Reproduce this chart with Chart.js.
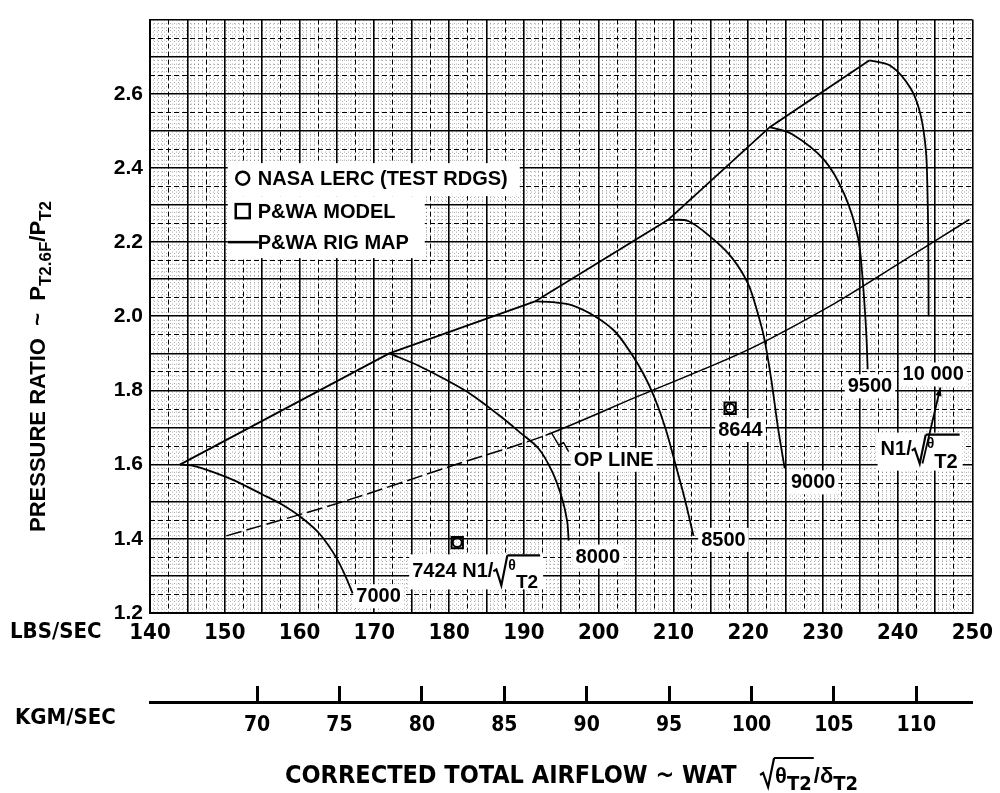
<!DOCTYPE html>
<html>
<head>
<meta charset="utf-8">
<title>Compressor map</title>
<script src="https://cdn.jsdelivr.net/npm/chart.js@4.4.0/dist/chart.umd.min.js"></script>
<style>
  html, body { margin: 0; padding: 0; background: #fff; }
  #wrap { width: 1000px; height: 793px; position: relative; }
</style>
</head>
<body>
<div id="wrap"><canvas id="map"></canvas></div>
<script>
// ── DATA ──────────────────────────────────────────────────────────────────────

const LB_PER_KG = 2.20462;

const X_TICKS = [140, 150, 160, 170, 180, 190, 200, 210, 220, 230, 240, 250];
const Y_TICKS = [1.2, 1.4, 1.6, 1.8, 2.0, 2.2, 2.4, 2.6];
const KGM_TICKS = [70, 75, 80, 85, 90, 95, 100, 105, 110];

// surge line through the tops of the speed lines
const SURGE_X = [144, 172, 191.5, 209.3, 222.9, 236.2];
const SURGE_Y = [1.60, 1.90, 2.04, 2.26, 2.51, 2.69];

// corrected speed lines  N1/sqrt(theta T2)
const N7000_X = [144, 145.5, 147.6, 151.1, 155.1, 157.6, 160.2, 162.7, 164.9, 166.2, 167.1];
const N7000_Y = [1.600, 1.598, 1.586, 1.559, 1.519, 1.493, 1.458, 1.413, 1.350, 1.297, 1.253];

const N8000_X = [172, 176, 182.2, 186.7, 189.6, 192, 193.8, 195.1, 195.8, 196.0];
const N8000_Y = [1.900, 1.866, 1.799, 1.733, 1.685, 1.643, 1.581, 1.510, 1.448, 1.395];

const N8500_X = [191.5, 194, 196.4, 199.6, 202.2, 204.2, 206.0, 207.5, 209.0, 210.3, 211.5, 212.7];
const N8500_Y = [2.040, 2.038, 2.030, 1.999, 1.959, 1.905, 1.845, 1.780, 1.695, 1.600, 1.510, 1.408];

const N9000_X = [209.3, 212, 215.1, 217.8, 220, 221.3, 222.2, 223.1, 224.0, 224.9];
const N9000_Y = [2.260, 2.257, 2.212, 2.159, 2.088, 2.008, 1.937, 1.830, 1.700, 1.590];

const N9500_X = [222.9, 225.8, 230.2, 232.9, 234.7, 235.3, 235.8, 236.0];
const N9500_Y = [2.510, 2.492, 2.421, 2.328, 2.213, 2.106, 1.959, 1.857];

const N10000_X = [236.2, 239.1, 241.8, 243.1, 243.8, 244.0, 244.1, 244.15];
const N10000_Y = [2.690, 2.675, 2.613, 2.541, 2.444, 2.337, 2.213, 2.000];

// operating line
const OP_X = [150.2, 165.3, 180.4, 192.9, 205.0, 219.6, 231.6, 240.0, 249.6];
const OP_Y = [1.408, 1.497, 1.597, 1.679, 1.782, 1.906, 2.035, 2.140, 2.261];

// test readings and model points (7424 and 8644)
const TEST_X = [181.1, 217.6];
const TEST_Y = [1.390, 1.752];
const MODEL_X = [181.1, 217.6];
const MODEL_Y = [1.390, 1.752];

// ── FONTS ─────────────────────────────────────────────────────────────────────

const SANS = '"Liberation Sans", Arial, sans-serif';
function fontOk(name) {
  const c = document.createElement('canvas').getContext('2d');
  c.font = 'bold 40px monospace';
  const a = c.measureText('CORRECTED 0123').width;
  c.font = `bold 40px "${name}", monospace`;
  return c.measureText('CORRECTED 0123').width !== a;
}
const NARROW = fontOk('Liberation Sans Narrow') ? '"Liberation Sans Narrow", sans-serif'
  : fontOk('DejaVu Sans Condensed') ? '"DejaVu Sans Condensed", sans-serif' : SANS;

// ── HELPERS ───────────────────────────────────────────────────────────────────

const pts = (xs, ys) => xs.map((x, i) => ({ x, y: ys[i] }));
const OP_DASH_END = 193;

const speedLine = (label, xs, ys, extra) => Object.assign({
  label, data: pts(xs, ys), showLine: true, pointRadius: 0, pointHoverRadius: 0,
  borderColor: '#000', borderWidth: 1.8, tension: 0.3, fill: false,
}, extra || {});

// rich text: parts run left to right, rad/end draw a square-root sign with overline
function rich(ctx, x, y, parts, draw) {
  let cx = x, radX = 0, radTop = 0;
  ctx.textAlign = 'left';
  ctx.textBaseline = 'alphabetic';
  for (const p of parts) {
    if (p.rad) {
      if (draw) {
        ctx.beginPath();
        ctx.moveTo(cx, y + p.mid);
        ctx.lineTo(cx + 3, y + p.mid - 2);
        ctx.lineTo(cx + 8, y + p.bot);
        ctx.lineTo(cx + 14, y + p.top);
        ctx.lineWidth = 2.2;
        ctx.strokeStyle = '#000';
        ctx.stroke();
      }
      radX = cx + 14; radTop = y + p.top; cx += 15;
      continue;
    }
    if (p.end) {
      if (draw) {
        ctx.beginPath();
        ctx.moveTo(radX, radTop);
        ctx.lineTo(cx + 2, radTop);
        ctx.lineWidth = 2.2;
        ctx.stroke();
      }
      cx += 2;
      continue;
    }
    ctx.font = `bold ${p.s}px ${p.f || SANS}`;
    if (draw) { ctx.fillStyle = '#000'; ctx.fillText(p.t, cx, y + (p.dy || 0)); }
    cx += ctx.measureText(p.t).width;
  }
  return cx - x;
}

const at = (chart, p) => [chart.scales.x.getPixelForValue(p[0]), chart.scales.y.getPixelForValue(p[1])];

const LABELS = [
  { at: [167.6, 1.229], parts: [{ t: '7000', s: 20 }] },
  { at: [175.07, 1.296], down: 12, up: 23, parts: [
    { t: '7424 N1/', s: 20 }, { rad: true, mid: -6, bot: 8, top: -22 },
    { t: 'θ', s: 14, dy: -7 }, { t: 'T2', s: 19, dy: 11 }, { end: true }] },
  { at: [196.93, 1.336], parts: [{ t: '8000', s: 20 }] },
  { at: [213.73, 1.381], parts: [{ t: '8500', s: 20 }] },
  { at: [225.73, 1.536], parts: [{ t: '9000', s: 20 }] },
  { at: [216.0, 1.677], parts: [{ t: '8644', s: 20 }] },
  { at: [196.67, 1.597], parts: [{ t: 'OP LINE', s: 20 }] },
  { at: [233.33, 1.795], parts: [{ t: '9500', s: 20 }] },
  { at: [240.67, 1.827], parts: [{ t: '10 000', s: 20 }] },
  { at: [237.73, 1.627], down: 16, up: 22, parts: [
    { t: 'N1/', s: 20 }, { rad: true, mid: -4, bot: 9, top: -20 },
    { t: 'θ', s: 14, dy: -7 }, { t: 'T2', s: 20, dy: 13 }, { end: true }] },
];
const LEGEND_AT = [150.4, 2.413];

const notes = {
  id: 'notes',
  beforeDatasetsDraw(chart) {
    const ctx = chart.ctx;
    ctx.save();
    const [lx, ly] = at(chart, LEGEND_AT);
    ctx.fillStyle = '#fff';
    ctx.fillRect(lx, ly, 292, 33);
    ctx.fillRect(lx, ly + 33, 197, 62);
    for (const lab of LABELS) {
      const [x, y] = at(chart, lab.at);
      const w = rich(ctx, x, y, lab.parts, false);
      const up = lab.up || 18, down = lab.down || 6;
      ctx.fillStyle = '#fff';
      ctx.fillRect(x - 3, y - up, w + 6, up + down);
    }
    ctx.restore();
  },
  afterDatasetsDraw(chart) {
    const ctx = chart.ctx;
    ctx.save();
    for (const lab of LABELS) {
      const [x, y] = at(chart, lab.at);
      rich(ctx, x, y, lab.parts, true);
    }
    // leader to 10 000
    const [ax, ay] = at(chart, [243.33, 1.603]);
    const [bx, by] = at(chart, [245.73, 1.808]);
    ctx.strokeStyle = '#000';
    ctx.lineWidth = 1.8;
    ctx.beginPath(); ctx.moveTo(ax, ay); ctx.lineTo(bx, by); ctx.stroke();
    const ang = Math.atan2(by - ay, bx - ax);
    ctx.beginPath();
    ctx.moveTo(bx, by);
    ctx.lineTo(bx - 9 * Math.cos(ang - 0.35), by - 9 * Math.sin(ang - 0.35));
    ctx.lineTo(bx - 9 * Math.cos(ang + 0.35), by - 9 * Math.sin(ang + 0.35));
    ctx.closePath(); ctx.fillStyle = '#000'; ctx.fill();
    // OP LINE leader
    const lead = [[196.0, 1.635], [195.33, 1.659], [194.67, 1.653], [193.73, 1.685]].map(p => at(chart, p));
    ctx.lineWidth = 1.4;
    ctx.beginPath();
    lead.forEach((p, i) => (i ? ctx.lineTo(p[0], p[1]) : ctx.moveTo(p[0], p[1])));
    ctx.stroke();

    // legend
    const [lx, ly] = at(chart, LEGEND_AT);
    ctx.lineWidth = 2.5;
    ctx.beginPath(); ctx.arc(lx + 15, ly + 15, 6.5, 0, Math.PI * 2); ctx.stroke();
    ctx.strokeRect(lx + 8, ly + 41, 14, 14);
    ctx.beginPath(); ctx.moveTo(lx, ly + 79); ctx.lineTo(lx + 31, ly + 79); ctx.stroke();
    ctx.font = `bold 20px ${SANS}`;
    ctx.fillStyle = '#000';
    ctx.textAlign = 'left';
    ctx.textBaseline = 'alphabetic';
    ctx.fillText('NASA LERC (TEST RDGS)', lx + 30, ly + 22);
    ctx.fillText('P&WA MODEL', lx + 30, ly + 55);
    ctx.fillText('P&WA RIG MAP', lx + 30, ly + 86);
    ctx.restore();
  },
  afterDraw(chart) {
    const ctx = chart.ctx;
    ctx.save();
    ctx.fillStyle = '#000';
    ctx.strokeStyle = '#000';
    // axis unit names
    ctx.font = `bold 22px ${NARROW}`;
    ctx.textAlign = 'left';
    ctx.textBaseline = 'middle';
    ctx.fillText('LBS/SEC', 10, 632);
    ctx.fillText('KGM/SEC', 15, 718);
    // x title
    rich(ctx, 285, 783, [
      { t: 'CORRECTED TOTAL AIRFLOW ~ WAT   ', s: 25, f: NARROW },
      { rad: true, mid: -8, bot: 4, top: -25 },
      { t: 'θ', s: 22 }, { t: 'T2', s: 20, f: NARROW, dy: 7 }, { end: true },
      { t: '/δ', s: 22 }, { t: 'T2', s: 20, f: NARROW, dy: 7 },
    ], true);
    // y title
    ctx.translate(45, 532);
    ctx.rotate(-Math.PI / 2);
    rich(ctx, 0, 0, [
      { t: 'PRESSURE RATIO  ~  P', s: 22 },
      { t: 'T2.6F', s: 17, dy: 6 },
      { t: '/P', s: 22 },
      { t: 'T2', s: 17, dy: 6 },
    ], true);
    ctx.restore();
  },
};

// ── GRID SCALES ───────────────────────────────────────────────────────────────

const clear = 'rgba(0,0,0,0)';
const hiddenScale = (axis, position, min, max, step, colorFn, width, dash, z) => ({
  type: 'linear', axis, position, min, max,
  ticks: { display: false, stepSize: step, autoSkip: false },
  grid: { drawTicks: false, z, lineWidth: width, color: colorFn },
  border: { display: false, dash },
  afterFit: s => { if (axis === 'x') s.height = 0; else s.width = 0; },
});

// ── CHART ─────────────────────────────────────────────────────────────────────

new Chart(document.getElementById('map'), {
  type: 'scatter',
  data: {
    datasets: [
      speedLine('Surge line', SURGE_X, SURGE_Y, { tension: 0 }),
      speedLine('7000', N7000_X, N7000_Y),
      speedLine('8000', N8000_X, N8000_Y),
      speedLine('8500', N8500_X, N8500_Y),
      speedLine('9000', N9000_X, N9000_Y),
      speedLine('9500', N9500_X, N9500_Y),
      speedLine('10 000', N10000_X, N10000_Y),
      speedLine('OP LINE', OP_X, OP_Y, {
        borderWidth: 1.5,
        segment: { borderDash: c => (c.p1.parsed.x <= OP_DASH_END ? [16, 5] : undefined) },
      }),
      {
        label: 'NASA LERC (TEST RDGS)', data: pts(TEST_X, TEST_Y), showLine: false,
        pointStyle: 'circle', pointRadius: 4.5, borderWidth: 2, borderColor: '#000', backgroundColor: clear,
      },
      {
        label: 'P&WA MODEL', data: pts(MODEL_X, MODEL_Y), showLine: false,
        pointStyle: 'rect', pointRadius: 8, borderWidth: 2, borderColor: '#000', backgroundColor: clear,
      },
    ],
  },
  options: {
    animation: false,
    responsive: true,
    maintainAspectRatio: false,
    layout: { padding: { top: 12, right: 25, bottom: 0, left: 0 } },
    plugins: { legend: { display: false }, tooltip: { enabled: false } },
    events: [],
    scales: {
      x: {
        type: 'linear', position: 'bottom', min: 140, max: 250, weight: 0,
        ticks: {
          stepSize: 5, autoSkip: false, maxRotation: 0, padding: 7, color: '#000',
          font: { family: NARROW, size: 22, weight: 'bold' },
          callback: v => (X_TICKS.includes(v) ? String(v) : ''),
        },
        grid: { drawTicks: false, z: -1, lineWidth: 1.6, color: '#000' },
        border: { display: true, width: 2, color: '#000' },
        afterFit: s => { s.height = 89; },
      },
      xk: {
        type: 'linear', position: 'bottom', weight: 1,
        min: 140 / LB_PER_KG, max: 250 / LB_PER_KG,
        afterBuildTicks: s => { s.ticks = KGM_TICKS.map(v => ({ value: v })); },
        ticks: {
          autoSkip: false, maxRotation: 0, padding: 27, color: '#000',
          font: { family: NARROW, size: 21, weight: 'bold' },
        },
        grid: { drawOnChartArea: false, drawTicks: true, tickLength: -16, tickWidth: 3, tickColor: '#000' },
        border: { display: true, width: 3, color: '#000' },
        afterFit: s => { s.height = 91; },
      },
      xHalf: hiddenScale('x', 'bottom', 140, 250, 2.5,
        c => (Math.round(c.tick.value / 2.5) % 2 === 0 ? clear : '#000'), 1, [5, 3], -2),
      xFine: hiddenScale('x', 'bottom', 140, 250, 0.5,
        c => (Math.round(c.tick.value * 2) % 5 === 0 ? clear : 'rgba(0,0,0,0.33)'), 1, [1, 3], -3),
      y: {
        type: 'linear', position: 'left', min: 1.2, max: 2.8,
        ticks: {
          stepSize: 0.1, autoSkip: false, padding: 7, color: '#000',
          font: { family: SANS, size: 21, weight: 'bold' },
          callback: v => {
            const r = Math.round(v * 10) / 10;
            return Y_TICKS.includes(r) ? r.toFixed(1) : '';
          },
        },
        grid: { drawTicks: false, z: -1, lineWidth: 1.6, color: '#000' },
        border: { display: true, width: 2, color: '#000' },
        afterFit: s => { s.width = 150; },
      },
      yHalf: hiddenScale('y', 'left', 1.2, 2.8, 0.05,
        c => (Math.round(c.tick.value * 100) % 10 === 0 ? clear : '#000'), 1, [5, 3], -2),
      yFine: hiddenScale('y', 'left', 1.2, 2.8, 0.01,
        c => (Math.round(c.tick.value * 100) % 5 === 0 ? clear : 'rgba(0,0,0,0.33)'), 1, [1, 3], -3),
    },
  },
  plugins: [notes],
});
</script>
</body>
</html>
